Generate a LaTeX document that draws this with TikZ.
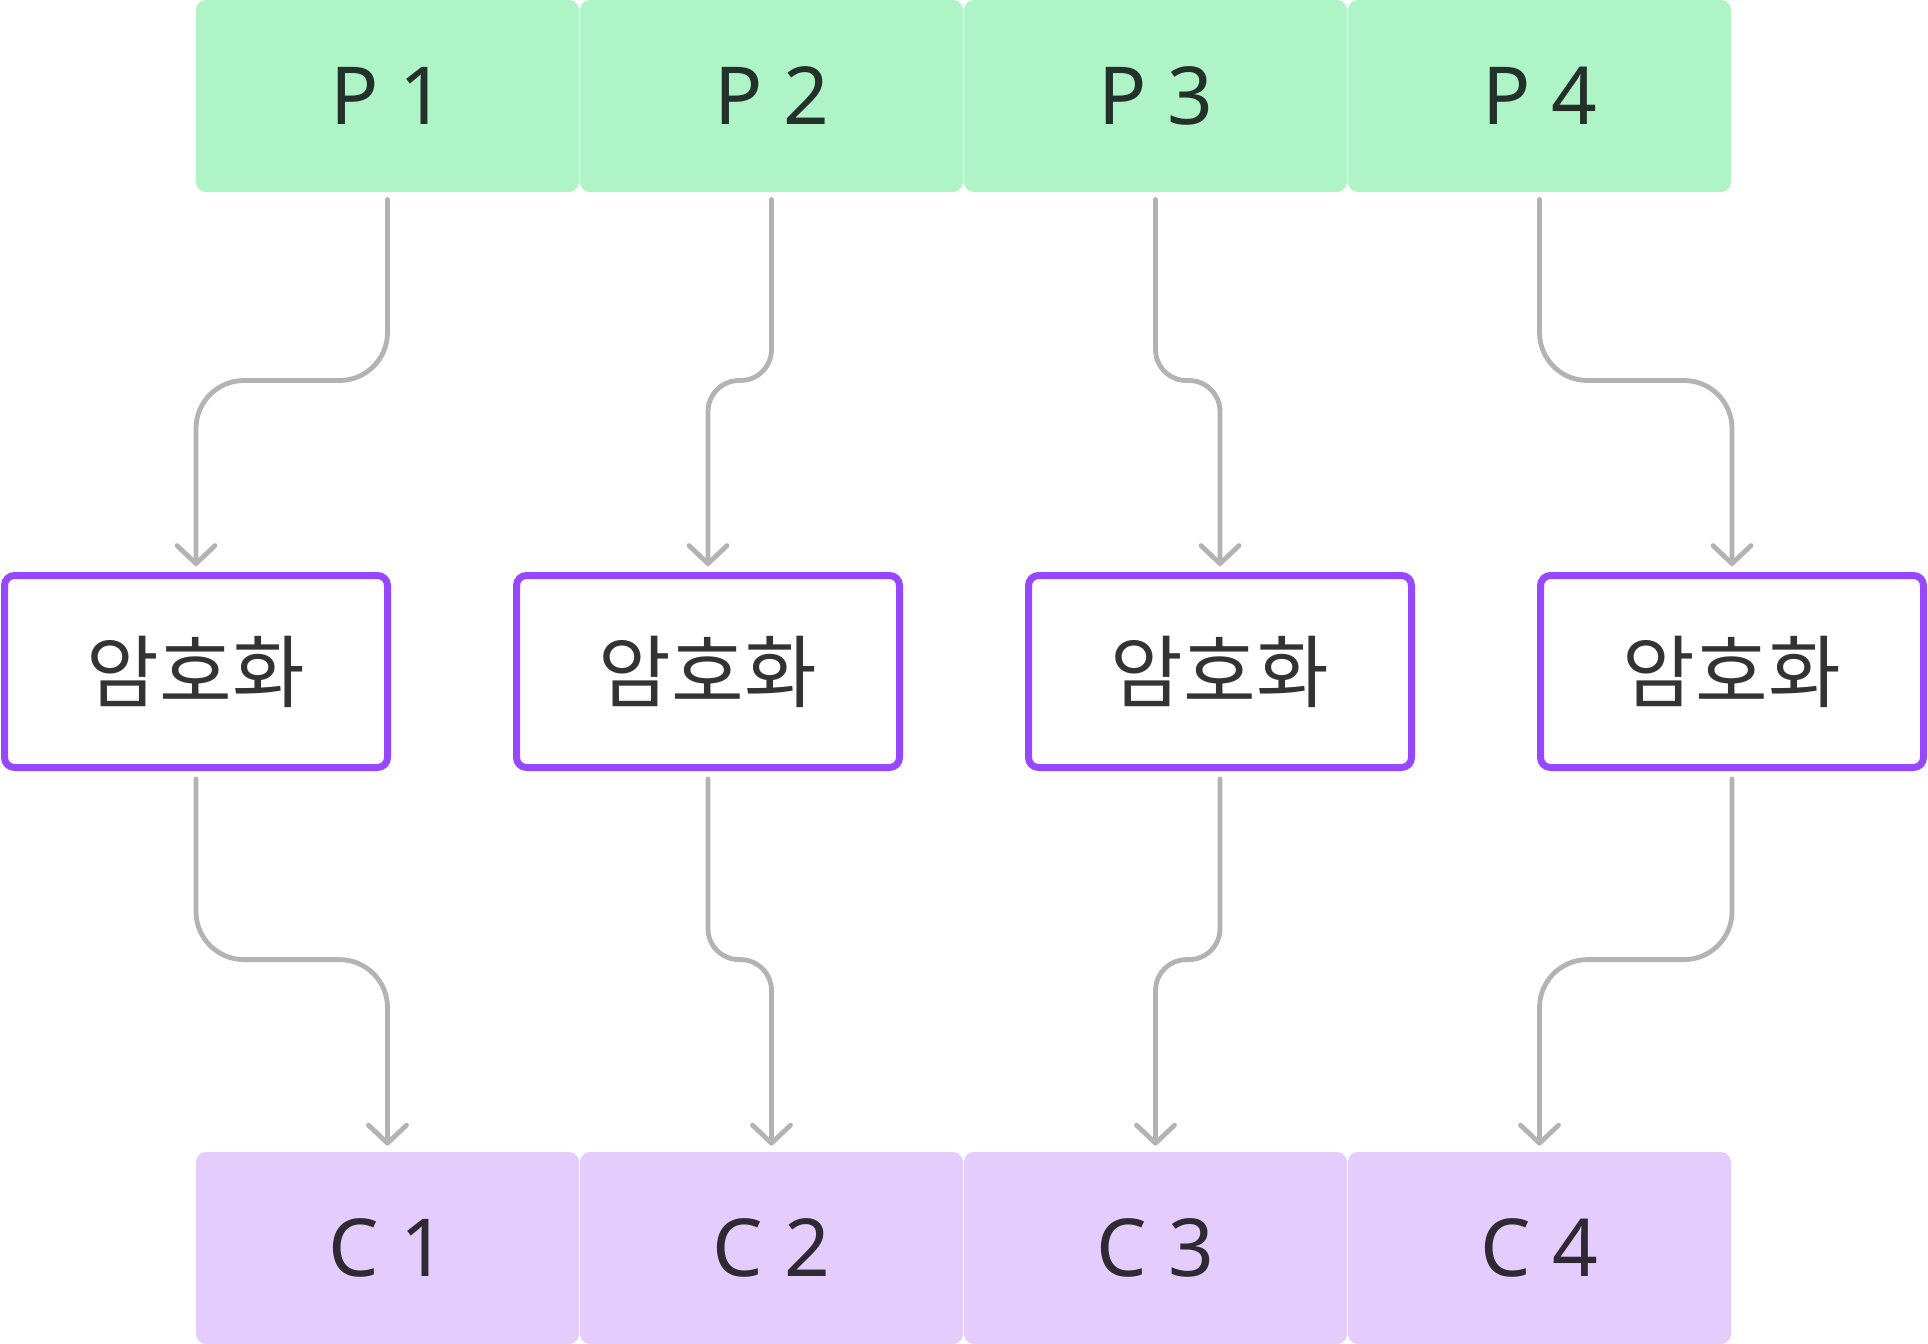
\documentclass[tikz,border=0pt]{standalone}
\usepackage{fontspec}
\setmainfont{Noto Sans}
\newfontfamily\krfont{Noto Sans CJK KR}
\usepackage{xcolor}
\usetikzlibrary{arrows.meta}

\definecolor{plainfill}{HTML}{AFF4C6}
\definecolor{plaintext}{HTML}{24302A}
\definecolor{cipherfill}{HTML}{E4CCFD}
\definecolor{ciphertext}{HTML}{2E2933}
\definecolor{encline}{HTML}{9747FF}
\definecolor{enctext}{HTML}{333333}
\definecolor{flowgray}{HTML}{B3B3B3}

\begin{document}
\begin{tikzpicture}[
  x=0.5pt, y=-0.5pt,
  plainblk/.style={rectangle, fill=plainfill, rounded corners=5pt, minimum width=191.5pt, minimum height=96pt, inner sep=0pt, text=plaintext, font=\fontsize{40}{48}\selectfont},
  cipherblk/.style={rectangle, fill=cipherfill, rounded corners=5pt, minimum width=191.5pt, minimum height=96pt, inner sep=0pt, text=ciphertext, font=\fontsize{40}{48}\selectfont},
  encblk/.style={rectangle, draw=encline, line width=3.5pt, fill=white, rounded corners=5pt, minimum width=191.5pt, minimum height=96pt, inner sep=0pt, text=enctext, font=\krfont\fontsize{39.5}{46}\selectfont},
  flow/.style={draw=flowgray, line width=2.4pt, line cap=round, -{Straight Barb[length=9pt, width=19pt, round]}}
]
 \useasboundingbox (0,0) rectangle (1928,1344);

 % Plaintext blocks
 \node[plainblk] (p1) at (387.5,96) {P 1};
 \node[plainblk] (p2) at (771.5,96) {P 2};
 \node[plainblk] (p3) at (1155.5,96) {P 3};
 \node[plainblk] (p4) at (1539.5,96) {P 4};

 % Encryption blocks
 \node[encblk] (enc1) at (196,671.5) {암호화};
 \node[encblk] (enc2) at (708,671.5) {암호화};
 \node[encblk] (enc3) at (1220,671.5) {암호화};
 \node[encblk] (enc4) at (1732,671.5) {암호화};

 % Ciphertext blocks
 \node[cipherblk] (c1) at (387.5,1248) {C 1};
 \node[cipherblk] (c2) at (771.5,1248) {C 2};
 \node[cipherblk] (c3) at (1155.5,1248) {C 3};
 \node[cipherblk] (c4) at (1539.5,1248) {C 4};

 % P -> encryption
 \draw[flow, rounded corners=24pt] ([yshift=-3.5pt]p1.south) |- ([yshift=95.75pt]enc1.north) -- ([yshift=3pt]enc1.north);
 \draw[flow, rounded corners=15.5pt] ([yshift=-3.5pt]p2.south) |- ([yshift=95.75pt]enc2.north) -- ([yshift=3pt]enc2.north);
 \draw[flow, rounded corners=15.5pt] ([yshift=-3.5pt]p3.south) |- ([yshift=95.75pt]enc3.north) -- ([yshift=3pt]enc3.north);
 \draw[flow, rounded corners=24pt] ([yshift=-3.5pt]p4.south) |- ([yshift=95.75pt]enc4.north) -- ([yshift=3pt]enc4.north);

 % encryption -> C
 \draw[flow, rounded corners=24pt] ([yshift=-4pt]enc1.south) |- ([yshift=96pt]c1.north) -- ([yshift=3pt]c1.north);
 \draw[flow, rounded corners=15.5pt] ([yshift=-4pt]enc2.south) |- ([yshift=96pt]c2.north) -- ([yshift=3pt]c2.north);
 \draw[flow, rounded corners=15.5pt] ([yshift=-4pt]enc3.south) |- ([yshift=96pt]c3.north) -- ([yshift=3pt]c3.north);
 \draw[flow, rounded corners=24pt] ([yshift=-4pt]enc4.south) |- ([yshift=96pt]c4.north) -- ([yshift=3pt]c4.north);
\end{tikzpicture}
\end{document}
